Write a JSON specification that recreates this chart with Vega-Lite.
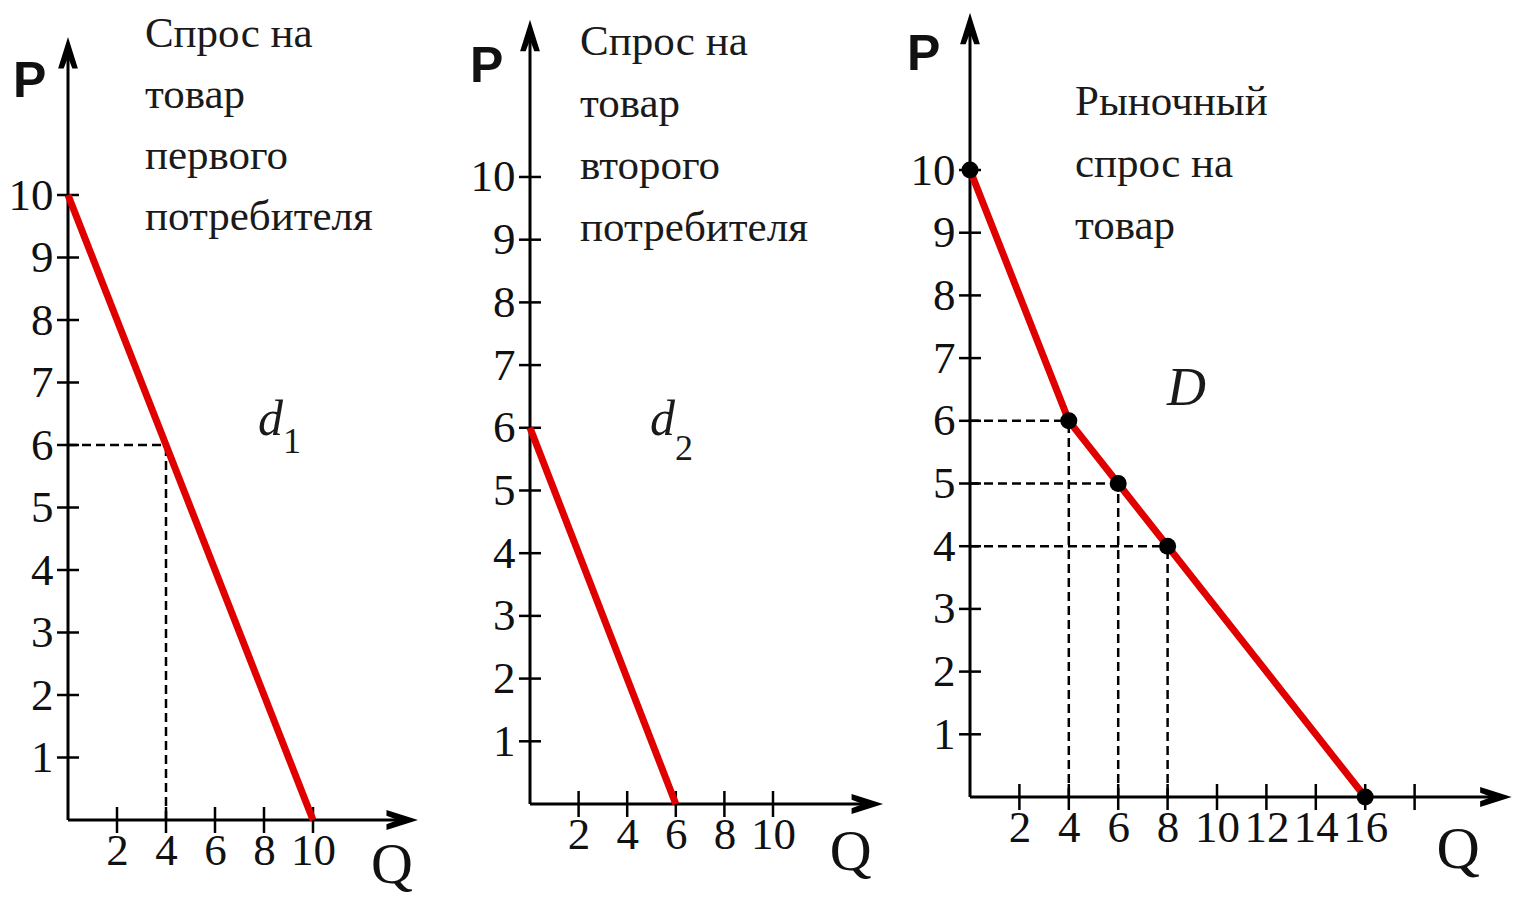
{
  "$schema": "https://vega.github.io/schema/vega-lite/v6.json",
  "background": "white",
  "padding": {"left": 8, "top": 10, "right": 0, "bottom": 0},
  "autosize": {"type": "pad"},
  "spacing": 60,
  "bounds": "flush",
  "config": {
    "view": {"stroke": null},
    "axis": {
      "domain": false, "ticks": false, "grid": false, "title": null,
      "labelFont": "Liberation Serif", "labelFontSize": 45, "labelColor": "#111111",
      "labelOverlap": false, "labelFlush": false, "labelBound": false
    },
    "axisX": {"labelPadding": 8},
    "axisY": {"labelPadding": 15}
  },
  "hconcat": [
    {
      "width": 402,
      "height": 810,
      "encoding": {
        "x": {"field": "Q", "type": "quantitative", "scale": {"domain": [0, 16.408], "nice": false, "zero": false}, "axis": {"values": [2, 4, 6, 8, 10]}},
        "y": {"field": "P", "type": "quantitative", "scale": {"domain": [0, 12.96], "nice": false, "zero": false}, "axis": {"values": [1, 2, 3, 4, 5, 6, 7, 8, 9, 10]}}
      },
      "layer": [
        {
          "data": {"values": [{"Q": 0, "P": 0, "Q2": 0, "P2": 12.24}, {"Q": 0, "P": 0, "Q2": 13.55, "P2": 0}]},
          "mark": {"type": "rule", "color": "black", "strokeWidth": 3},
          "encoding": {"x2": {"field": "Q2"}, "y2": {"field": "P2"}}
        },
        {
          "data": {"values": [{"Q": 0, "P": 1}, {"Q": 0, "P": 2}, {"Q": 0, "P": 3}, {"Q": 0, "P": 4}, {"Q": 0, "P": 5}, {"Q": 0, "P": 6}, {"Q": 0, "P": 7}, {"Q": 0, "P": 8}, {"Q": 0, "P": 9}, {"Q": 0, "P": 10}]},
          "mark": {"type": "tick", "orient": "horizontal", "size": 22, "thickness": 2.5, "color": "black", "opacity": 1}
        },
        {
          "data": {"values": [{"Q": 2, "P": 0}, {"Q": 4, "P": 0}, {"Q": 6, "P": 0}, {"Q": 8, "P": 0}, {"Q": 10, "P": 0}]},
          "mark": {"type": "tick", "orient": "vertical", "size": 26, "thickness": 2.5, "color": "black", "opacity": 1}
        },
        {
          "data": {"values": [{"Q": 0, "P": 6, "Q2": 4, "P2": 6}, {"Q": 4, "P": 0, "Q2": 4, "P2": 6}]},
          "mark": {"type": "rule", "color": "black", "strokeWidth": 2.5, "strokeDash": [9, 5]},
          "encoding": {"x2": {"field": "Q2"}, "y2": {"field": "P2"}}
        },
        {
          "data": {"values": [{"Q": 0, "P": 10}, {"Q": 10, "P": 0}]},
          "mark": {"type": "line", "color": "#e00000", "strokeWidth": 7}
        },
        {
          "data": {"values": [{"Q": 0, "P": 12.24}]},
          "mark": {"type": "point", "shape": "M0,-1L0.55,0.75L0.24,0.75L0,0.12L-0.24,0.75L-0.55,0.75Z", "size": 1296, "filled": true, "color": "black", "opacity": 1}
        },
        {
          "data": {"values": [{"Q": 13.55, "P": 0}]},
          "mark": {"type": "point", "shape": "M0,-1L0.55,0.75L0.24,0.75L0,0.12L-0.24,0.75L-0.55,0.75Z", "angle": 90, "size": 1296, "filled": true, "color": "black", "opacity": 1}
        },
        {
          "data": {"values": [{"Q": 3.14, "P": 12.37, "label": "Спрос на\nтовар\nпервого\nпотребителя"}]},
          "mark": {"type": "text", "align": "left", "baseline": "alphabetic", "lineBreak": "\n", "lineHeight": 61, "font": "Liberation Serif", "fontSize": 43, "color": "#1a1a1a"},
          "encoding": {"text": {"field": "label"}}
        },
        {
          "data": {"values": [{"Q": 7.76, "P": 6.16, "label": "d"}]},
          "mark": {"type": "text", "align": "left", "baseline": "alphabetic", "font": "Liberation Serif", "fontStyle": "italic", "fontSize": 50, "color": "#1a1a1a"},
          "encoding": {"text": {"field": "label"}}
        },
        {
          "data": {"values": [{"Q": 8.78, "P": 5.87, "label": "1"}]},
          "mark": {"type": "text", "align": "left", "baseline": "alphabetic", "font": "Liberation Serif", "fontSize": 36, "color": "#1a1a1a"},
          "encoding": {"text": {"field": "label"}}
        },
        {
          "data": {"values": [{"Q": -2.24, "P": 11.57, "label": "P"}]},
          "mark": {"type": "text", "align": "left", "baseline": "alphabetic", "font": "Liberation Sans", "fontWeight": "bold", "fontSize": 50, "color": "#111111"},
          "encoding": {"text": {"field": "label"}}
        },
        {
          "data": {"values": [{"Q": 13.22, "P": -1.0, "label": "Q"}]},
          "mark": {"type": "text", "align": "center", "baseline": "alphabetic", "font": "Liberation Serif", "fontSize": 58, "color": "#111111"},
          "encoding": {"text": {"field": "label"}}
        }
      ]
    },
    {
      "width": 380,
      "height": 794,
      "encoding": {
        "x": {"field": "Q", "type": "quantitative", "scale": {"domain": [0, 15.638], "nice": false, "zero": false}, "axis": {"values": [2, 4, 6, 8, 10]}},
        "y": {"field": "P", "type": "quantitative", "scale": {"domain": [0, 12.663], "nice": false, "zero": false}, "axis": {"values": [1, 2, 3, 4, 5, 6, 7, 8, 9, 10]}}
      },
      "layer": [
        {
          "data": {"values": [{"Q": 0, "P": 0, "Q2": 0, "P2": 12.22}, {"Q": 0, "P": 0, "Q2": 13.79, "P2": 0}]},
          "mark": {"type": "rule", "color": "black", "strokeWidth": 3},
          "encoding": {"x2": {"field": "Q2"}, "y2": {"field": "P2"}}
        },
        {
          "data": {"values": [{"Q": 0, "P": 1}, {"Q": 0, "P": 2}, {"Q": 0, "P": 3}, {"Q": 0, "P": 4}, {"Q": 0, "P": 5}, {"Q": 0, "P": 6}, {"Q": 0, "P": 7}, {"Q": 0, "P": 8}, {"Q": 0, "P": 9}, {"Q": 0, "P": 10}]},
          "mark": {"type": "tick", "orient": "horizontal", "size": 22, "thickness": 2.5, "color": "black", "opacity": 1}
        },
        {
          "data": {"values": [{"Q": 2, "P": 0}, {"Q": 4, "P": 0}, {"Q": 6, "P": 0}, {"Q": 8, "P": 0}, {"Q": 10, "P": 0}]},
          "mark": {"type": "tick", "orient": "vertical", "size": 26, "thickness": 2.5, "color": "black", "opacity": 1}
        },
        {
          "data": {"values": [{"Q": 0, "P": 6}, {"Q": 6, "P": 0}]},
          "mark": {"type": "line", "color": "#e00000", "strokeWidth": 7}
        },
        {
          "data": {"values": [{"Q": 0, "P": 12.22}]},
          "mark": {"type": "point", "shape": "M0,-1L0.55,0.75L0.24,0.75L0,0.12L-0.24,0.75L-0.55,0.75Z", "size": 1296, "filled": true, "color": "black", "opacity": 1}
        },
        {
          "data": {"values": [{"Q": 13.79, "P": 0}]},
          "mark": {"type": "point", "shape": "M0,-1L0.55,0.75L0.24,0.75L0,0.12L-0.24,0.75L-0.55,0.75Z", "angle": 90, "size": 1296, "filled": true, "color": "black", "opacity": 1}
        },
        {
          "data": {"values": [{"Q": 2.06, "P": 11.95, "label": "Спрос на\nтовар\nвторого\nпотребителя"}]},
          "mark": {"type": "text", "align": "left", "baseline": "alphabetic", "lineBreak": "\n", "lineHeight": 62, "font": "Liberation Serif", "fontSize": 43, "color": "#1a1a1a"},
          "encoding": {"text": {"field": "label"}}
        },
        {
          "data": {"values": [{"Q": 4.94, "P": 5.89, "label": "d"}]},
          "mark": {"type": "text", "align": "left", "baseline": "alphabetic", "font": "Liberation Serif", "fontStyle": "italic", "fontSize": 50, "color": "#1a1a1a"},
          "encoding": {"text": {"field": "label"}}
        },
        {
          "data": {"values": [{"Q": 5.97, "P": 5.49, "label": "2"}]},
          "mark": {"type": "text", "align": "left", "baseline": "alphabetic", "font": "Liberation Serif", "fontSize": 36, "color": "#1a1a1a"},
          "encoding": {"text": {"field": "label"}}
        },
        {
          "data": {"values": [{"Q": -2.47, "P": 11.52, "label": "P"}]},
          "mark": {"type": "text", "align": "left", "baseline": "alphabetic", "font": "Liberation Sans", "fontWeight": "bold", "fontSize": 50, "color": "#111111"},
          "encoding": {"text": {"field": "label"}}
        },
        {
          "data": {"values": [{"Q": 13.2, "P": -1.05, "label": "Q"}]},
          "mark": {"type": "text", "align": "center", "baseline": "alphabetic", "font": "Liberation Serif", "fontSize": 58, "color": "#111111"},
          "encoding": {"text": {"field": "label"}}
        }
      ]
    },
    {
      "width": 546,
      "height": 787,
      "encoding": {
        "x": {"field": "Q", "type": "quantitative", "scale": {"domain": [0, 22.105], "nice": false, "zero": false}, "axis": {"values": [2, 4, 6, 8, 10, 12, 14, 16]}},
        "y": {"field": "P", "type": "quantitative", "scale": {"domain": [0, 12.552], "nice": false, "zero": false}, "axis": {"values": [1, 2, 3, 4, 5, 6, 7, 8, 9, 10]}}
      },
      "layer": [
        {
          "data": {"values": [{"Q": 0, "P": 0, "Q2": 0, "P2": 12.22}, {"Q": 0, "P": 0, "Q2": 21.2, "P2": 0}]},
          "mark": {"type": "rule", "color": "black", "strokeWidth": 3},
          "encoding": {"x2": {"field": "Q2"}, "y2": {"field": "P2"}}
        },
        {
          "data": {"values": [{"Q": 0, "P": 1}, {"Q": 0, "P": 2}, {"Q": 0, "P": 3}, {"Q": 0, "P": 4}, {"Q": 0, "P": 5}, {"Q": 0, "P": 6}, {"Q": 0, "P": 7}, {"Q": 0, "P": 8}, {"Q": 0, "P": 9}, {"Q": 0, "P": 10}]},
          "mark": {"type": "tick", "orient": "horizontal", "size": 22, "thickness": 2.5, "color": "black", "opacity": 1}
        },
        {
          "data": {"values": [{"Q": 2, "P": 0}, {"Q": 4, "P": 0}, {"Q": 6, "P": 0}, {"Q": 8, "P": 0}, {"Q": 10, "P": 0}, {"Q": 12, "P": 0}, {"Q": 14, "P": 0}, {"Q": 16, "P": 0}, {"Q": 18, "P": 0}]},
          "mark": {"type": "tick", "orient": "vertical", "size": 26, "thickness": 2.5, "color": "black", "opacity": 1}
        },
        {
          "data": {"values": [
            {"Q": 0, "P": 6, "Q2": 4, "P2": 6}, {"Q": 0, "P": 5, "Q2": 6, "P2": 5}, {"Q": 0, "P": 4, "Q2": 8, "P2": 4},
            {"Q": 4, "P": 0, "Q2": 4, "P2": 6}, {"Q": 6, "P": 0, "Q2": 6, "P2": 5}, {"Q": 8, "P": 0, "Q2": 8, "P2": 4}
          ]},
          "mark": {"type": "rule", "color": "black", "strokeWidth": 2.5, "strokeDash": [9, 5]},
          "encoding": {"x2": {"field": "Q2"}, "y2": {"field": "P2"}}
        },
        {
          "data": {"values": [{"Q": 0, "P": 10}, {"Q": 4, "P": 6}, {"Q": 6, "P": 5}, {"Q": 8, "P": 4}, {"Q": 16, "P": 0}]},
          "layer": [
            {"mark": {"type": "line", "color": "#e00000", "strokeWidth": 7}},
            {"mark": {"type": "point", "shape": "circle", "size": 290, "filled": true, "color": "black", "opacity": 1}}
          ]
        },
        {
          "data": {"values": [{"Q": 0, "P": 12.22}]},
          "mark": {"type": "point", "shape": "M0,-1L0.55,0.75L0.24,0.75L0,0.12L-0.24,0.75L-0.55,0.75Z", "size": 1296, "filled": true, "color": "black", "opacity": 1}
        },
        {
          "data": {"values": [{"Q": 21.2, "P": 0}]},
          "mark": {"type": "point", "shape": "M0,-1L0.55,0.75L0.24,0.75L0,0.12L-0.24,0.75L-0.55,0.75Z", "angle": 90, "size": 1296, "filled": true, "color": "black", "opacity": 1}
        },
        {
          "data": {"values": [{"Q": 4.25, "P": 10.88, "label": "Рыночный\nспрос на\nтовар"}]},
          "mark": {"type": "text", "align": "left", "baseline": "alphabetic", "lineBreak": "\n", "lineHeight": 62, "font": "Liberation Serif", "fontSize": 43, "color": "#1a1a1a"},
          "encoding": {"text": {"field": "label"}}
        },
        {
          "data": {"values": [{"Q": 7.98, "P": 6.25, "label": "D"}]},
          "mark": {"type": "text", "align": "left", "baseline": "alphabetic", "font": "Liberation Serif", "fontStyle": "italic", "fontSize": 54, "color": "#1a1a1a"},
          "encoding": {"text": {"field": "label"}}
        },
        {
          "data": {"values": [{"Q": -2.55, "P": 11.59, "label": "P"}]},
          "mark": {"type": "text", "align": "left", "baseline": "alphabetic", "font": "Liberation Sans", "fontWeight": "bold", "fontSize": 50, "color": "#111111"},
          "encoding": {"text": {"field": "label"}}
        },
        {
          "data": {"values": [{"Q": 19.76, "P": -1.13, "label": "Q"}]},
          "mark": {"type": "text", "align": "center", "baseline": "alphabetic", "font": "Liberation Serif", "fontSize": 60, "color": "#111111"},
          "encoding": {"text": {"field": "label"}}
        }
      ]
    }
  ]
}
